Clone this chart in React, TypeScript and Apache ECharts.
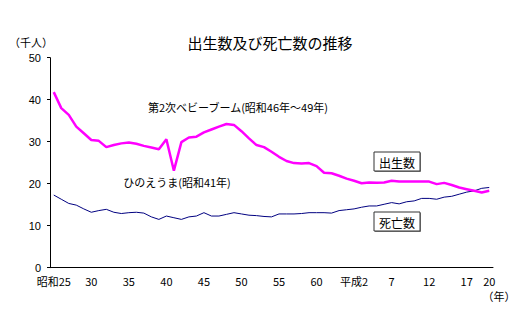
import React, { useEffect, useRef } from "react";
import * as echarts from "echarts";

const years: number[] = [];
for (let y = 1950; y <= 2008; y++) years.push(y);

const births = [
  41.8, 38.0, 36.4, 33.6, 32.0, 30.4, 30.2, 28.7, 29.2, 29.6,
  29.8, 29.5, 29.0, 28.6, 28.2, 30.6, 23.1, 29.9, 31.0, 31.2,
  32.2, 32.9, 33.6, 34.2, 34.0, 32.5, 30.8, 29.2, 28.7, 27.6,
  26.4, 25.4, 24.9, 24.8, 24.9, 24.2, 22.6, 22.5, 21.9, 21.2,
  20.7, 20.1, 20.3, 20.2, 20.3, 20.7, 20.5, 20.5, 20.5, 20.5,
  20.5, 19.9, 20.2, 19.7, 19.1, 18.7, 18.3, 17.9, 18.3,
];

const deaths = [
  17.3, 16.3, 15.3, 14.9, 14.0, 13.2, 13.6, 13.9, 13.2, 12.9,
  13.1, 13.2, 13.0, 12.1, 11.5, 12.3, 11.9, 11.5, 12.1, 12.3,
  13.1, 12.3, 12.3, 12.7, 13.1, 12.8, 12.5, 12.4, 12.2, 12.1,
  12.8, 12.8, 12.8, 12.9, 13.1, 13.1, 13.1, 13.0, 13.6, 13.8,
  14.0, 14.4, 14.7, 14.7, 15.1, 15.5, 15.2, 15.7, 15.9, 16.5,
  16.5, 16.3, 16.8, 17.0, 17.5, 18.0, 18.3, 18.9, 19.1,
];

const xLabels: Record<number, string> = {
  1950: "昭和25", 1955: "30", 1960: "35", 1965: "40", 1970: "45",
  1975: "50", 1980: "55", 1985: "60", 1990: "平成2", 1995: "7",
  2000: "12", 2005: "17", 2008: "20",
};

const yTicks = [0, 10, 20, 30, 40, 50];

const JP = "'MS PGothic','Noto Sans CJK JP',sans-serif";
const NUM = "Arial,'Liberation Sans',sans-serif";

export default function App() {
  const ref = useRef<HTMLDivElement>(null);
  useEffect(() => {
    if (!ref.current) return;
    const chart = echarts.init(ref.current, null, { renderer: "svg" });
    const box = (x: number, y: number, w: number, h: number, label: string) => [
      { type: "rect", shape: { x: x + 1, y: y + 1, width: w, height: h }, style: { fill: "#888", stroke: "none" }, z: 10 },
      { type: "rect", shape: { x, y, width: w, height: h }, style: { fill: "#fff", stroke: "#333", lineWidth: 1 }, z: 11 },
      { type: "text", x: x + w / 2, y: y + h / 2 + 1, style: { text: label, font: `12px ${JP}`, fill: "#000", align: "center", verticalAlign: "middle" }, z: 12 },
    ];
    chart.setOption({
      animation: false,
      grid: { left: 50, right: 37, top: 57.7, bottom: 59.3, containLabel: false },
      xAxis: {
        type: "category",
        data: years.map(String),
        boundaryGap: true,
        axisLine: { lineStyle: { color: "#000", width: 1 } },
        axisTick: { show: false },
        axisLabel: {
          interval: (i: number) => xLabels[years[i]] !== undefined,
          formatter: (v: string) => xLabels[Number(v)] ?? "",
          color: "#000",
          fontSize: 11,
          fontFamily: JP,
          margin: 8,
        },
      },
      yAxis: {
        type: "value",
        min: yTicks[0],
        max: yTicks[yTicks.length - 1],
        interval: 10,
        splitLine: { show: false },
        axisLine: { show: true, lineStyle: { color: "#000", width: 1 } },
        axisTick: { show: true, length: 3, lineStyle: { color: "#000" } },
        axisLabel: { color: "#000", fontSize: 11, fontFamily: NUM, margin: 9 },
      },
      series: [
        {
          name: "出生数",
          type: "line",
          data: births,
          symbol: "none",
          lineStyle: { color: "#ff00ff", width: 2.5 },
          z: 3,
        },
        {
          name: "死亡数",
          type: "line",
          data: deaths,
          symbol: "none",
          lineStyle: { color: "#000080", width: 1 },
          z: 2,
        },
      ],
      graphic: [
        { type: "text", x: 270, y: 42, style: { text: "出生数及び死亡数の推移", font: `15px ${JP}`, fill: "#000", align: "center", verticalAlign: "middle" } },
        { type: "text", x: 31, y: 42, style: { text: "（千人）", font: `11px ${JP}`, fill: "#000", align: "center", verticalAlign: "middle" } },
        { type: "text", x: 499, y: 296, style: { text: "（年）", font: `11px ${JP}`, fill: "#000", align: "center", verticalAlign: "middle" } },
        { type: "text", x: 238, y: 107, style: { text: "第2次ベビーブーム(昭和46年～49年)", font: `11px ${JP}`, fill: "#000", align: "center", verticalAlign: "middle" } },
        { type: "text", x: 177, y: 182, style: { text: "ひのえうま(昭和41年)", font: `11px ${JP}`, fill: "#000", align: "center", verticalAlign: "middle" } },
        ...box(374, 152, 46, 19, "出生数"),
        ...box(374, 212, 46, 19, "死亡数"),
      ],
    });
    return () => chart.dispose();
  }, []);
  return <div ref={ref} style={{ width: 530, height: 327, position: "absolute", left: 0, top: 0 }} />;
}
